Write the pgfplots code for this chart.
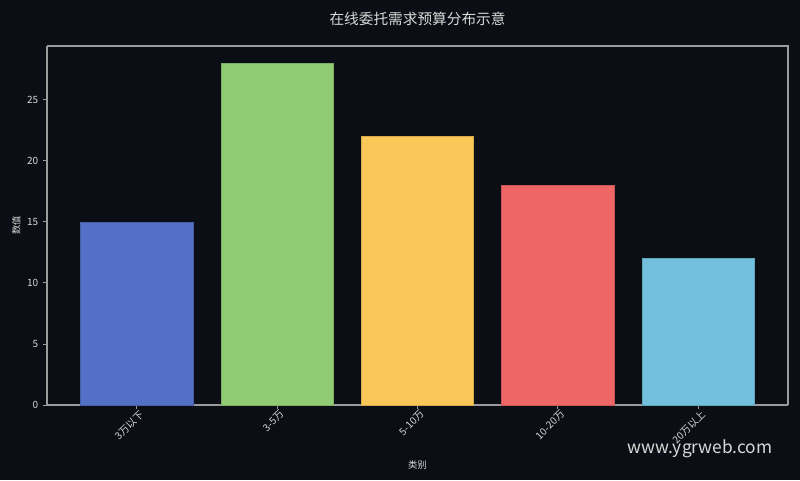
\documentclass[border=0pt]{standalone}
\usepackage{pgfplots}
\pgfplotsset{compat=1.18}
\usepackage{fontspec}
\setmainfont{Noto Sans CJK SC}
\definecolor{bg}{HTML}{0B0E14}
\definecolor{fg}{HTML}{D8D8D8}
\definecolor{c1}{HTML}{5470C6}
\definecolor{c2}{HTML}{91CC75}
\definecolor{c3}{HTML}{FAC858}
\definecolor{c4}{HTML}{EE6666}
\definecolor{c5}{HTML}{73C0DE}
\begin{document}
\begin{tikzpicture}[x=1pt,y=1pt]
\fill[bg] (0,0) rectangle (600,360);
\path[use as bounding box] (0,0) rectangle (600,360);
\begin{axis}[
  at={(35.25pt,56.25pt)}, anchor=south west,
  scale only axis, width=555.75pt, height=269.25pt,
  xmin=-0.64, xmax=4.64, ymin=0, ymax=29.4,
  axis line style={fg!70!bg, line width=0.8pt},
  axis x line*=bottom, axis y line*=left,
  separate axis lines,
  xtick={0,1,2,3,4},
  xticklabels={3万以下,3-5万,5-10万,10-20万,20万以上},
  x tick label style={rotate=45, anchor=north east, font=\fontsize{7.5}{8}\selectfont, text=fg, inner sep=1pt, xshift=2pt},
  ytick={0,5,10,15,20,25},
  y tick label style={font=\fontsize{7.5}{8}\selectfont, text=fg},
  /pgf/number format/assume math mode=true,
  tick style={fg!70!bg, line width=0.6pt},
  tick align=outside, major tick length=3pt,
  xlabel={类别}, ylabel={数值},
  xlabel style={font=\fontsize{7}{8}\selectfont, text=fg, yshift=-7pt},
  ylabel style={font=\fontsize{7}{8}\selectfont, text=fg, yshift=-2pt},
  title={在线委托需求预算分布示意},
  title style={font=\fontsize{11}{13}\selectfont, text=fg, yshift=6pt},
  clip=false,
]
\addplot[ybar, bar width=0.8, bar shift=0pt, fill=c1, draw=c1!85!black, line width=0.4pt] coordinates {(0,15)};
\addplot[ybar, bar width=0.8, bar shift=0pt, fill=c2, draw=c2!85!black, line width=0.4pt] coordinates {(1,28)};
\addplot[ybar, bar width=0.8, bar shift=0pt, fill=c3, draw=c3!85!black, line width=0.4pt] coordinates {(2,22)};
\addplot[ybar, bar width=0.8, bar shift=0pt, fill=c4, draw=c4!85!black, line width=0.4pt] coordinates {(3,18)};
\addplot[ybar, bar width=0.8, bar shift=0pt, fill=c5, draw=c5!85!black, line width=0.4pt] coordinates {(4,12)};
% top and right spines
\draw[fg!70!bg, line width=0.8pt] (rel axis cs:0,1) -- (rel axis cs:1,1) -- (rel axis cs:1,0);
\end{axis}
\node[anchor=center, text=fg, font=\fontsize{13}{15}\selectfont] at (525,23.25) {www.ygrweb.com};
\end{tikzpicture}
\end{document}
